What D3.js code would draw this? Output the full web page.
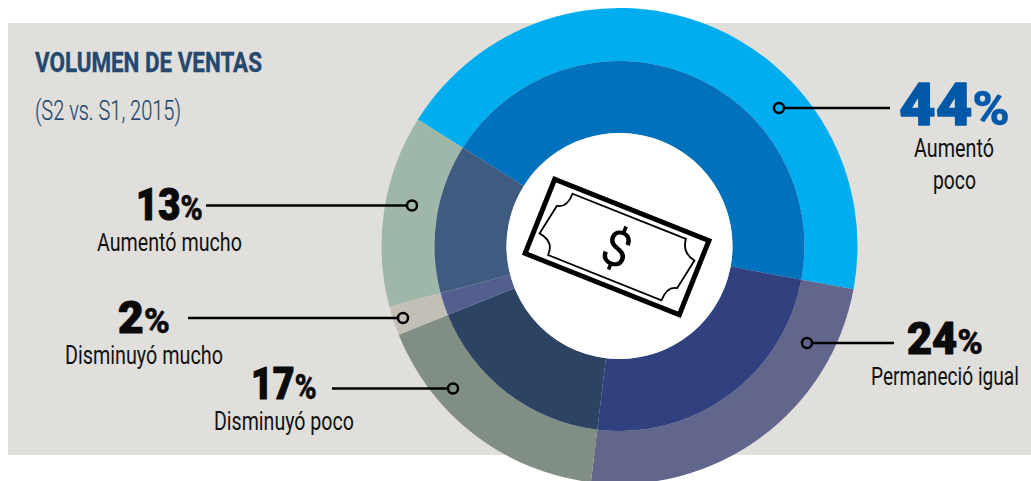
<!DOCTYPE html>
<html><head><meta charset="utf-8">
<script src="https://cdn.jsdelivr.net/npm/d3@7"></script>
<style>html,body{margin:0;padding:0;background:#fff}svg{display:block}</style></head>
<body><svg id="c" width="1031" height="481"></svg>
<script>
const categories=["Aumentó poco","Permaneció igual","Disminuyó poco","Disminuyó mucho","Aumentó mucho"];
const values=[44,24,17,2,13];
const innerColors=["#0071bc","#31407f","#2c4364","#525f8f","#3f5c80"];
const outerColors=["#00aeef","#62668c","#818e84","#c3bfb7","#9fb7a8"];
const labelLines=[["Aumentó","poco"],["Permaneció igual"],["Disminuyó poco"],["Disminuyó mucho"],["Aumentó mucho"]];
const title="VOLUMEN DE VENTAS", subtitle="(S2 vs. S1, 2015)";

const svg=d3.select("#c");
const cx=619.5, cy=246, rHole=113, rMid=185, rOut=238;
svg.append("rect").attr("x",8).attr("y",23).attr("width",1023).attr("height",432).attr("fill","#e0dfdc");

const pie=d3.pie().sort(null).startAngle(-57.9*Math.PI/180).endAngle((360-57.9)*Math.PI/180)(values);
const g=svg.append("g").attr("transform",`translate(${cx},${cy})`);
const arcOut=d3.arc().innerRadius(rMid).outerRadius(rOut);
const arcIn=d3.arc().innerRadius(rHole).outerRadius(rMid);
g.selectAll(".o").data(pie).join("path").attr("d",arcOut).attr("fill",(d,i)=>outerColors[i]);
g.selectAll(".i").data(pie).join("path").attr("d",arcIn).attr("fill",(d,i)=>innerColors[i]);
g.append("circle").attr("r",rHole).attr("fill","#fff");

// text placed at a measured left edge and baseline, squeezed to a measured width
function fit(x,w,y,s,o,after){
  const t=svg.append("text").attr("text-anchor","start")
   .attr("font-family","Roboto").attr("font-size",o.size).attr("font-weight",o.weight||400)
   .attr("fill",o.fill||"#111").text(s);
  if(o.stroke) t.attr("stroke",o.fill||"#111").attr("stroke-width",o.stroke).attr("stroke-linejoin","round");
  if(after) after(t);
  const len=t.node().getComputedTextLength();
  t.attr("transform",`translate(${x},${y}) scale(${w/len},1)`);
  return t;
}
fit(35,227,72,title,{size:28,weight:700,fill:"#25486f",stroke:.4});
fit(35,146,120,subtitle,{size:27,weight:300,fill:"#25486f",stroke:.2});

const layout=[
 {cxp:779,y:108,x2:890,nx:899,w:111,base:125,size:59,fill:"#0058a8",text:[[914,80,157],[933,43,189]]},
 {cxp:807,y:343,x2:894,nx:907,w:76,base:354,size:43.5,fill:"#0a0a0a",text:[[871,148,385]]},
 {cxp:453,y:388.5,x2:332,nx:251,w:66,base:399,size:43.5,fill:"#0a0a0a",text:[[214,140,430]]},
 {cxp:403,y:318,x2:188,nx:118,w:52,base:333,size:43.5,fill:"#0a0a0a",text:[[65,158,364]]},
 {cxp:412,y:205.5,x2:206,nx:136,w:67,base:220,size:43.5,fill:"#0a0a0a",text:[[97,145,251]]}];
layout.forEach((l,i)=>{
  svg.append("line").attr("x1",l.cxp).attr("x2",l.x2).attr("y1",l.y).attr("y2",l.y).attr("stroke","#000").attr("stroke-width",2.5);
  svg.append("circle").attr("cx",l.cxp).attr("cy",l.y).attr("r",5).attr("fill",outerColors[i]).attr("stroke","#000").attr("stroke-width",2.5);
  fit(l.nx,l.w,l.base,values[i],{size:l.size,weight:900,fill:l.fill,stroke:i==0?1.4:1.1},
    t=>t.append("tspan").attr("font-size",l.size*.8).attr("stroke-width",.3).text("%"));
  labelLines[i].forEach((s,k)=>fit(l.text[k][0],l.text[k][1],l.text[k][2],s,{size:26.5,weight:400,fill:"#111"}));
});

// banknote icon
const note=svg.append("g").attr("transform","translate(617,247) rotate(21.7)").attr("fill","none").attr("stroke","#000");
note.append("rect").attr("x",-83).attr("y",-40).attr("width",166).attr("height",80).attr("stroke-width",5);
note.append("path").attr("stroke-width",1.8).attr("d",
 "M-61,-33 L61,-33 C62,-24 66,-18 77,-16 L71,16 C64,17 61,24 61,33 L-61,33 C-61,24 -64,18 -77,16 L-71,-16 C-64,-17 -61,-24 -61,-33 Z");
svg.append("text").attr("transform","translate(617,248) rotate(21.7)").attr("text-anchor","middle").attr("dy","0.36em")
 .attr("font-family","Roboto").attr("font-size",50).attr("font-weight",400).attr("fill","#000").text("$");
</script></body></html>
